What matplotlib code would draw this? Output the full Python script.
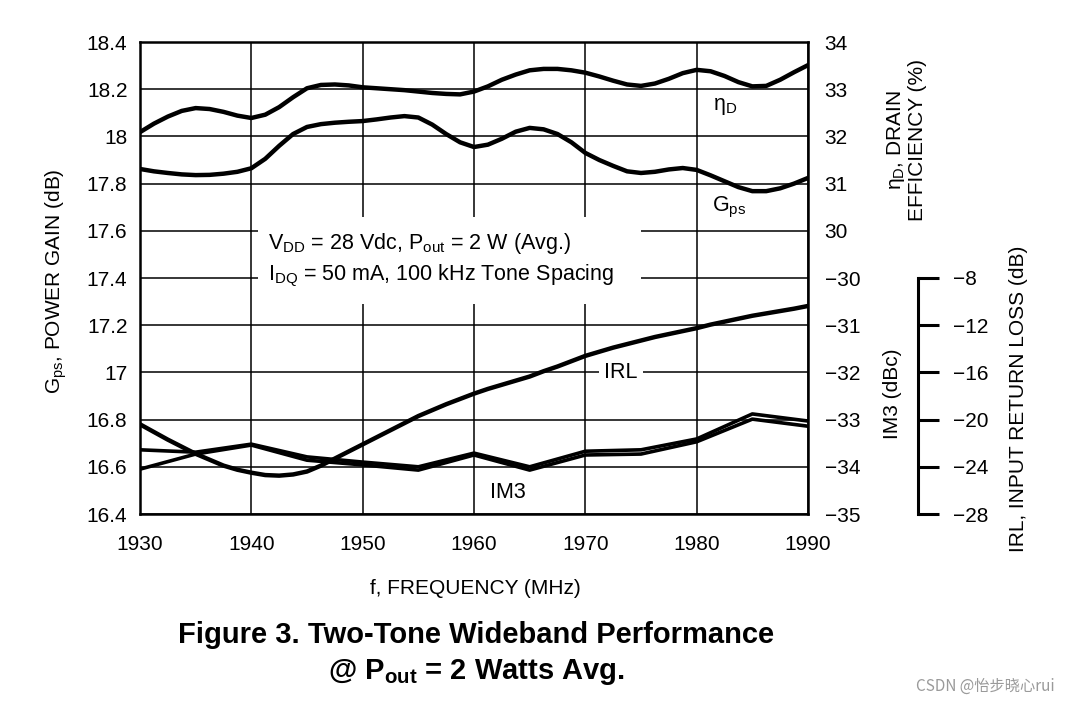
import matplotlib.pyplot as plt
from matplotlib.patches import Rectangle

plt.rcParams['font.family'] = ['Liberation Sans', 'DejaVu Sans']
plt.rcParams['mathtext.fontset'] = 'custom'
plt.rcParams['mathtext.rm'] = 'Liberation Sans'
plt.rcParams['mathtext.it'] = 'Liberation Sans:italic'
plt.rcParams['mathtext.bf'] = 'Liberation Sans:bold'

freq = [1930, 1931.25, 1932.5, 1933.75, 1935, 1936.25, 1937.5, 1938.75, 1940, 1941.25,
        1942.5, 1943.75, 1945, 1946.25, 1947.5, 1948.75, 1950, 1951.25, 1952.5, 1953.75,
        1955, 1956.25, 1957.5, 1958.75, 1960, 1961.25, 1962.5, 1963.75, 1965, 1966.25,
        1967.5, 1968.75, 1970, 1971.25, 1972.5, 1973.75, 1975, 1976.25, 1977.5, 1978.75,
        1980, 1981.25, 1982.5, 1983.75, 1985, 1986.25, 1987.5, 1988.75, 1990]
gain = [17.862, 17.852, 17.845, 17.839, 17.836, 17.837, 17.842, 17.850, 17.865, 17.905,
        17.96, 18.01, 18.04, 18.052, 18.058, 18.062, 18.065, 18.072, 18.08, 18.086,
        18.08, 18.05, 18.01, 17.975, 17.955, 17.965, 17.99, 18.02, 18.036, 18.03,
        18.01, 17.975, 17.93, 17.90, 17.875, 17.852, 17.845, 17.85, 17.86, 17.866,
        17.858, 17.835, 17.81, 17.785, 17.768, 17.768, 17.78, 17.80, 17.824]
eff = [32.09, 32.27, 32.42, 32.54, 32.60, 32.58, 32.52, 32.44, 32.39, 32.46,
       32.62, 32.83, 33.02, 33.09, 33.10, 33.08, 33.04, 33.02, 33.00, 32.98,
       32.95, 32.92, 32.90, 32.89, 32.95, 33.06, 33.20, 33.31, 33.40, 33.43,
       33.43, 33.40, 33.35, 33.27, 33.18, 33.10, 33.07, 33.12, 33.22, 33.34,
       33.41, 33.38, 33.28, 33.15, 33.06, 33.07, 33.20, 33.36, 33.51]
irl = [-20.4, -21.05, -21.7, -22.3, -22.9, -23.4, -23.9, -24.25, -24.5, -24.7,
       -24.75, -24.65, -24.4, -23.9, -23.3, -22.7, -22.1, -21.5, -20.9, -20.3,
       -19.7, -19.2, -18.7, -18.25, -17.8, -17.4, -17.05, -16.7, -16.35, -15.9,
       -15.5, -15.05, -14.6, -14.25, -13.9, -13.6, -13.3, -13.0, -12.75, -12.5,
       -12.25, -11.95, -11.7, -11.45, -11.2, -11.0, -10.8, -10.6, -10.37]

# IM3 measured every 5 MHz (two sidebands, nearly on top of each other)
freq_im3 = [1930, 1935, 1940, 1945, 1950, 1955, 1960, 1965, 1970, 1975, 1980, 1985, 1990]
im3_upper = [-33.64, -33.69, -33.52, -33.79, -33.90, -34.00, -33.71, -34.00, -33.67, -33.64, -33.41, -32.88, -33.03]
im3_lower = [-34.05, -33.73, -33.54, -33.86, -33.96, -34.07, -33.75, -34.07, -33.75, -33.73, -33.47, -32.99, -33.14]

freq_ticks = [1930, 1940, 1950, 1960, 1970, 1980, 1990]
gain_ticks = [16.4, 16.6, 16.8, 17.0, 17.2, 17.4, 17.6, 17.8, 18.0, 18.2, 18.4]
gain_labels = ['16.4', '16.6', '16.8', '17', '17.2', '17.4', '17.6', '17.8', '18', '18.2', '18.4']
eff_ticks = [30, 31, 32, 33, 34]
im3_ticks = [-35, -34, -33, -32, -31, -30]
irl_ticks = [-28, -24, -20, -16, -12, -8]

W, H = 1067, 706
fig = plt.figure(figsize=(W / 100, H / 100), dpi=100)
ax = fig.add_axes([140 / W, 1 - 514 / H, 668 / W, 472 / H])

lw = 3.2
ax.plot(freq, gain, color='black', lw=lw, zorder=3, solid_joinstyle='round')
ax.set_xlim(1930, 1990)
ax.set_ylim(16.4, 18.4)
ax.set_xticks(freq_ticks)
ax.set_yticks(gain_ticks, labels=gain_labels)
ax.tick_params(length=0, labelsize=15)
ax.tick_params(axis='y', pad=9)
ax.tick_params(axis='x', pad=15)
ax.grid(True, color='black', lw=1.1)
ax.set_axisbelow(True)
for s in ax.spines.values():
    s.set_linewidth(1.8)

# white box behind the test conditions
ax.add_patch(Rectangle((1940.6, 17.29), 34.4, 0.368, facecolor='white', edgecolor='none', zorder=1))
ax.text(1941.5, 17.548, r'$\mathregular{V_{DD}}$ = 28 Vdc, $\mathregular{P_{out}}$ = 2 W (Avg.)',
        fontsize=15.5, va='center', ha='left', zorder=4)
ax.text(1941.5, 17.41, r'$\mathregular{I_{DQ}}$ = 50 mA, 100 kHz Tone Spacing',
        fontsize=15.5, va='center', ha='left', zorder=4)

ax.text(1981.5, 18.125, r'$\mathregular{η_D}$', fontsize=15.5, va='center', ha='left')
ax.text(1981.4, 17.697, r'$\mathregular{G_{ps}}$', fontsize=15.5, va='center', ha='left')
ax.text(1973.2, 17.0, 'IRL', fontsize=15.5, va='center', ha='center', zorder=4,
        bbox=dict(facecolor='white', edgecolor='none', pad=4))
ax.text(1963.05, 16.493, 'IM3', fontsize=15.5, va='center', ha='center')

# drain efficiency, right axis (top half)
ax_eff = ax.twinx()
ax_eff.plot(freq, eff, color='black', lw=lw, solid_joinstyle='round')
ax_eff.set_ylim(24, 34)
ax_eff.set_yticks(eff_ticks)

# IM3, right axis (bottom half)
ax_im3 = ax.twinx()
ax_im3.plot(freq_im3, im3_upper, color='black', lw=2.6)
ax_im3.plot(freq_im3, im3_lower, color='black', lw=2.6)
ax_im3.set_ylim(-35, -25)
ax_im3.set_yticks(im3_ticks)

for a in (ax_eff, ax_im3):
    for s in a.spines.values():
        s.set_visible(False)
    a.tick_params(axis='y', length=0, labelsize=15, pad=12)

# input return loss, separate axis further right
ax_irl = ax.twinx()
ax_irl.plot(freq, irl, color='black', lw=lw, solid_joinstyle='round')
ax_irl.set_ylim(-28, 12)
for s in ax_irl.spines.values():
    s.set_visible(False)
ax_irl.spines['right'].set_visible(True)
ax_irl.spines['right'].set_position(('axes', 1.1647))
ax_irl.spines['right'].set_bounds(-28, -8)
ax_irl.spines['right'].set_linewidth(2.2)
ax_irl.set_yticks(irl_ticks)
ax_irl.tick_params(axis='y', length=15, width=2.2, direction='out', labelsize=15, pad=10)

fig.text(56 / W, 1 - 281 / H, r'$\mathregular{G_{ps}}$, POWER GAIN (dB)', rotation=90,
         ha='center', va='center', fontsize=15)
fig.text(906 / W, 1 - 140 / H, '$\\mathregular{η_D}$, DRAIN\nEFFICIENCY (%)', rotation=90,
         ha='center', va='center', multialignment='center', fontsize=15, linespacing=1.1)
fig.text(893 / W, 1 - 394 / H, 'IM3 (dBc)', rotation=90, ha='center', va='center', fontsize=15)
fig.text(1018 / W, 1 - 399 / H, 'IRL, INPUT RETURN LOSS (dB)', rotation=90,
         ha='center', va='center', fontsize=15)
fig.text(475 / W, 1 - 588 / H, 'f, FREQUENCY (MHz)', ha='center', va='center', fontsize=15)

fig.text(476 / W, 1 - 635 / H, 'Figure 3. Two-Tone Wideband Performance', ha='center', va='center',
         fontsize=21, fontweight='bold')
fig.text(476 / W, 1 - 672 / H, r'@ $\mathbf{P_{out}}$ = 2 Watts Avg.', ha='center', va='center',
         fontsize=21, fontweight='bold')

fig.text(1055 / W, 1 - 686 / H, 'CSDN @怡步晓心rui', ha='right', va='center', color='#9a9a9a',
         fontsize=11, family=['Noto Sans CJK SC', 'DejaVu Sans'])

fig.savefig('out.png', dpi=100)
